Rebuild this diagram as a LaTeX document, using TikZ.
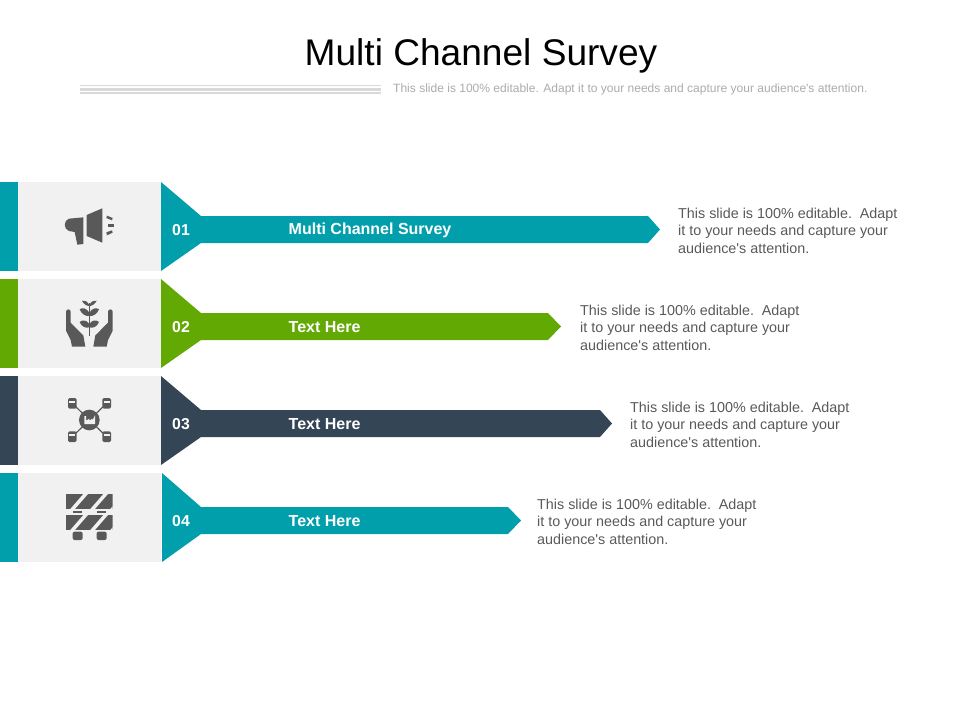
\documentclass[tikz,border=0pt]{standalone}
\usepackage{fontspec}
\setmainfont{Liberation Sans}[Ligatures=TeXOff]
\definecolor{tealbar}{HTML}{009FAB}
\definecolor{greenbar}{HTML}{62A903}
\definecolor{navybar}{HTML}{344556}
\definecolor{iconfill}{HTML}{595959}
\definecolor{panelgrey}{HTML}{F1F1F1}
\definecolor{rulegrey}{HTML}{D9D9D9}
\tikzset{
  desctext/.style={anchor=west,inner sep=0pt,align=left,text=iconfill,font=\fontsize{14.35}{17.5}\selectfont},
  numtext/.style={inner sep=0pt,text=white,font=\bfseries\fontsize{15.8}{17}\selectfont},
  labeltext/.style={anchor=west,inner sep=0pt,text=white,font=\bfseries\fontsize{16}{17}\selectfont},
  iconpart/.style={fill=iconfill,draw=none},
  iconline/.style={draw=iconfill,line width=1.2pt},
  ruleline/.style={fill=rulegrey,draw=none}
}
\begin{document}
\begin{tikzpicture}[x=1pt,y=-1pt]
\useasboundingbox (0,0) rectangle (960,720);

\node[inner sep=0pt,font=\fontsize{37.1}{40}\selectfont] (title) at (481,56) {Multi Channel Survey};
\fill[ruleline] (80,85) rectangle (381,86.3);
\fill[ruleline] (80,88) rectangle (381,90.6);
\fill[ruleline] (80,92) rectangle (381,94);
\node[anchor=west,inner sep=0pt,text=black!33,font=\fontsize{12.03}{14}\selectfont] (subtitle) at (393,89) {This slide is 100\% editable. Adapt it to your needs and capture your audience's attention.};

\foreach \i/\rowy/\basex/\endx/\tipx/\col/\lab/\descx in {
  1/182/161/648/660/tealbar/Multi Channel Survey/678,
  2/279/161/548/561/greenbar/Text Here/580,
  3/376/161/600/612/navybar/Text Here/630,
  4/473/162/508/521/tealbar/Text Here/537}
{
\fill[\col] (0,\rowy) rectangle (18,\rowy+89);
\fill[panelgrey] (18,\rowy) rectangle (161,\rowy+89);
\fill[\col] (\basex,\rowy) -- (201,\rowy+34) -- (\endx,\rowy+34) -- (\tipx,\rowy+47.5)
  -- (\endx,\rowy+61) -- (201,\rowy+61) -- (\basex,\rowy+89) -- cycle;
\node[numtext] (num\i) at (181,\rowy+48.5) {0\i};
\node[labeltext] (label\i) at (288.5,\rowy+48.5) {\lab};
\node[desctext] (desc\i) at (\descx,\rowy+48.5) {This slide is 100\% editable.\, Adapt\\it to your needs and capture your\\audience's attention.};
}

% megaphone
\begin{scope}[shift={(0,170)},scale=1/3]
\fill[iconpart] (207,146) -- (250,142) -- (250,222) -- (232,224) -- (224,186) -- (207,183)
  .. controls (190,178) and (190,151) .. (207,146) -- cycle;
\fill[iconpart] (260,135) -- (307,115) -- (307,218) -- (260,198) -- cycle;
\fill[iconpart] (321,137) -- (338,144) -- (336,151) -- (319,144) -- cycle;
\fill[iconpart] (325,162) -- (342,162) -- (342,170) -- (325,170) -- cycle;
\fill[iconpart] (319,187) -- (336,181) -- (338,188) -- (321,196) -- cycle;
\end{scope}

% hands and plant
\begin{scope}[shift={(0,170)},scale=1/3]
\foreach \s in {1,-1}
{
\begin{scope}[shift={(268,0)},xscale=\s]
\fill[iconpart] (-70,425) .. controls (-70,416) and (-56,416) .. (-56,425) -- (-56,458)
  -- (-36,478) .. controls (-28,486) and (-26,490) .. (-18,496) -- (-12,530) -- (-52,530)
  -- (-56,510) -- (-70,482) -- cycle;
\fill[iconpart] (0,428) .. controls (-8,414) and (-22,412) .. (-29,418)
  .. controls (-24,432) and (-10,440) .. (0,438) -- cycle;
\fill[iconpart] (0,462) .. controls (-8,450) and (-20,448) .. (-29,456)
  .. controls (-24,470) and (-10,476) .. (0,472) -- cycle;
\fill[iconpart] (0,405) .. controls (-6,394) and (-14,390) .. (-22,392)
  .. controls (-18,402) and (-8,408) .. (0,408) -- cycle;
\end{scope}
}
\draw[iconline] (268,398) -- (268,498);
\end{scope}

% network with factory
\begin{scope}[shift={(0,370)},scale=1/3]
\coordinate (hub) at (268,150);
\foreach \k/\cx/\cy in {a/217/100,b/320/100,c/217/200,d/320/200}
{
\coordinate (box\k) at (\cx,\cy);
\draw[iconline] (hub) -- (box\k);
\fill[iconpart,rounded corners=1.5pt] (\cx-13,\cy-16) rectangle (\cx+13,\cy+16);
\fill[panelgrey] (\cx-9,\cy-7) rectangle (\cx+9,\cy-2);
}
\fill[iconpart] (hub) circle (31);
\fill[panelgrey] (253,162) -- (253,138) -- (258,138) -- (258,152) -- (268,146) -- (268,152)
  -- (277,146) -- (277,152) -- (285,136) -- (285,162) -- cycle;
\end{scope}

% road barrier
\begin{scope}[shift={(0,370)},scale=1/3]
\foreach \ytop in {372,435}
{
\begin{scope}
\clip (198,\ytop) rectangle (338,\ytop+46);
\fill[iconpart] (198,\ytop) rectangle (338,\ytop+46);
\foreach \sx in {198,258,318}
{
\fill[panelgrey] (\sx+12,\ytop+46) -- (\sx+26,\ytop+46) -- (\sx+66,\ytop) -- (\sx+52,\ytop) -- cycle;
}
\end{scope}
}
\fill[iconpart] (220,422) rectangle (247,430);
\fill[iconpart] (290,422) rectangle (318,430);
\fill[iconpart,rounded corners=2pt] (218,485) rectangle (248,510);
\fill[iconpart,rounded corners=2pt] (290,485) rectangle (320,510);
\end{scope}
\end{tikzpicture}
\end{document}
